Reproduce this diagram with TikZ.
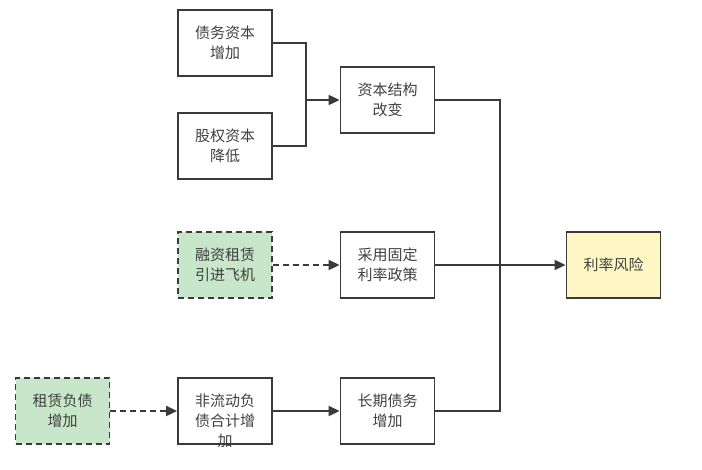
\documentclass[tikz,border=0pt]{standalone}
\usepackage{fontspec}
\setmainfont{Noto Sans CJK SC}
\usetikzlibrary{arrows.meta}
\definecolor{ln}{HTML}{3A3A3A}
\definecolor{tx}{HTML}{404040}
\definecolor{gfill}{HTML}{C8E6C9}
\definecolor{yfill}{HTML}{FFF8C4}
\tikzset{
  box/.style={draw=ln, line width=1.8pt, minimum width=94pt, minimum height=66pt, inner sep=0pt, font=\fontsize{15}{20}\selectfont, text=tx, align=center, text width=62pt},
  gbox/.style={box, fill=gfill, dashed, dash pattern=on 6pt off 4pt},
  ybox/.style={box, fill=yfill},
  conn/.style={draw=ln, line width=1.8pt},
  arr/.style={conn, -{Triangle[length=11pt,width=10pt]}},
  darr/.style={arr, dash pattern=on 6pt off 4pt},
  txt/.style={font=\fontsize{15}{20}\selectfont, text=tx, align=center, text width=62pt, inner sep=0pt}
}
\begin{document}
\begin{tikzpicture}[x=1pt,y=-1pt]
\useasboundingbox (0,0) rectangle (702,469);
\node[box] (debt) at (225,43) {债务资本\\增加};
\node[box] (equity) at (225,146) {股权资本\\降低};
\node[box] (struct) at (387.5,100) {资本结构\\改变};
\node[gbox] (lease) at (225,265) {融资租赁\\引进飞机};
\node[box] (fixed) at (387.5,265) {采用固定\\利率政策};
\node[ybox] (risk) at (613.5,265) {利率风险};
\node[gbox] (leaseliab) at (62.5,411) {租赁负债\\增加};
\node[box] (noncur) at (225,411) {};
\node[txt] (noncurtxt) at ([yshift=-10pt]noncur.center) {非流动负\\债合计增\\加};
\node[box] (longdebt) at (387.5,411) {长期债务\\增加};
\coordinate (j1) at (306,100);
\coordinate (j2) at (500,265);
\draw[conn] (debt.east) -| (j1);
\draw[conn] (equity.east) -| (j1);
\draw[arr] (j1) -- (struct.west);
\draw[conn] (struct.east) -| (j2);
\draw[conn] (longdebt.east) -| (j2);
\draw[arr] (fixed.east) -- (risk.west);
\draw[darr] (lease.east) -- (fixed.west);
\draw[darr] (leaseliab.east) -- (noncur.west);
\draw[arr] (noncur.east) -- (longdebt.west);
\end{tikzpicture}
\end{document}
